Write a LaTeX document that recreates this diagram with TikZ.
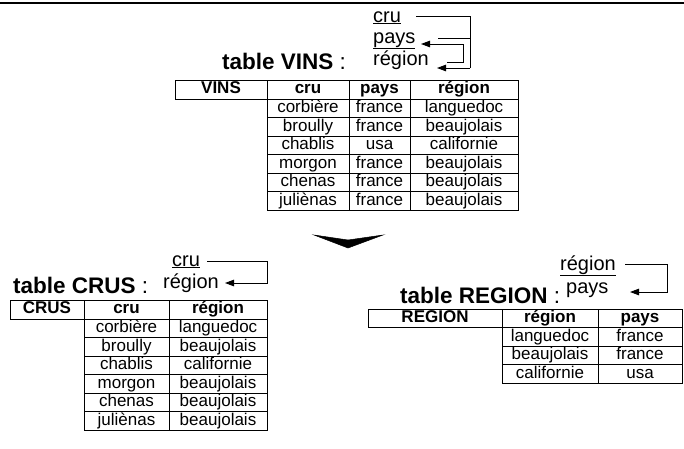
\documentclass[tikz,border=0pt]{standalone}
\usepackage{fontspec}
\setmainfont{Liberation Sans}
\usetikzlibrary{arrows.meta}
\begin{document}
\begin{tikzpicture}[x=1pt,y=-1pt,
  grid/.style={line width=0.9pt},
  cell/.style={font=\fontsize{17}{17}\selectfont, inner sep=0pt, text height=12.2pt, text depth=3.6pt, anchor=center},
  hcell/.style={cell, font=\fontsize{17}{17}\selectfont\bfseries},
  ttl/.style={font=\fontsize{22.5}{22.5}\selectfont, inner sep=0pt, anchor=base west},
  leg/.style={font=\fontsize{20}{20}\selectfont, inner sep=0pt, anchor=base west},
  link/.style={line width=0.9pt},
  arr/.style={link, -{Triangle[length=9pt,width=6.5pt]}},
  bigarrow/.style={fill=black, draw=black, line width=0.5pt}
]
\useasboundingbox (0,0) rectangle (684,448);
\draw[line width=1.5pt] (0,3) -- (684,3);

% ---------------- VINS ----------------
\node[leg] (vlcru) at (373,22) {\underline{cru}};
\node[leg] (vlpays) at (373,43) {\underline{pays}};
\node[leg] (vlreg) at (373,65) {région};
\coordinate (va1) at (416,16);
\coordinate (va2) at (470,16);
\coordinate (va3) at (470,68);
\coordinate (va4) at (437,68);
\coordinate (vb1) at (438,38);
\coordinate (vb2) at (470,38);
\coordinate (vc1) at (447,62);
\coordinate (vc2) at (463,62);
\coordinate (vc3) at (463,44);
\coordinate (vc4) at (421,44);
\draw[link] (va1) -- (va2) -- (va3);
\draw[arr] (va3) -- (va4);
\draw[link] (vb1) -- (vb2);
\draw[arr] (vc1) -- (vc2) -- (vc3) -- (vc4);

\node[ttl] (vtitle) at (222,69) {\textbf{table VINS} :};

\draw[grid] (175,80) rectangle (518,99);
\foreach \x in {267,349,410} \draw[grid] (\x,80) -- (\x,99);
\draw[grid] (267,99) rectangle (518,210);
\foreach \x in {349,410} \draw[grid] (\x,99) -- (\x,210);
\foreach \k in {1,...,5} \draw[grid] (267,99+18.5*\k) -- (518,99+18.5*\k);
\node[hcell] (vh0) at (221,89.5) {VINS};
\node[hcell] (vh1) at (308,89.5) {cru};
\node[hcell] (vh2) at (379.5,89.5) {pays};
\node[hcell] (vh3) at (464,89.5) {région};
\foreach \c/\p/\r [count=\i] in {corbière/france/languedoc, broully/france/beaujolais, chablis/usa/californie, morgon/france/beaujolais, chenas/france/beaujolais, juliènas/france/beaujolais}{
  \node[cell] (v\i a) at (308,99+18.5*\i-9.25) {\c};
  \node[cell] (v\i b) at (379.5,99+18.5*\i-9.25) {\p};
  \node[cell] (v\i c) at (464,99+18.5*\i-9.25) {\r};
}

% big down arrow
\filldraw[bigarrow] (314,235) -- (348,240) -- (383,235) -- (348,248) -- cycle;

% ---------------- CRUS ----------------
\node[leg] (clcru) at (172,266) {\underline{cru}};
\node[leg] (clreg) at (163,288) {région};
\coordinate (ca1) at (207,261);
\coordinate (ca2) at (267,261);
\coordinate (ca3) at (267,283);
\coordinate (ca4) at (225,283);
\draw[arr] (ca1) -- (ca2) -- (ca3) -- (ca4);
\node[ttl] (ctitle) at (13,293) {\textbf{table CRUS} :};

\draw[grid] (10,300) rectangle (267,319);
\foreach \x in {84,169} \draw[grid] (\x,300) -- (\x,319);
\draw[grid] (84,319) rectangle (267,430);
\draw[grid] (169,319) -- (169,430);
\foreach \k in {1,...,5} \draw[grid] (84,319+18.5*\k) -- (267,319+18.5*\k);
\node[hcell] (ch0) at (47,309.5) {CRUS};
\node[hcell] (ch1) at (126.5,309.5) {cru};
\node[hcell] (ch2) at (218,309.5) {région};
\foreach \c/\r [count=\i] in {corbière/languedoc, broully/beaujolais, chablis/californie, morgon/beaujolais, chenas/beaujolais, juliènas/beaujolais}{
  \node[cell] (c\i a) at (126.5,319+18.5*\i-9.25) {\c};
  \node[cell] (c\i b) at (218,319+18.5*\i-9.25) {\r};
}

% ---------------- REGION ----------------
\node[leg] (rlreg) at (560,270) {\underline{région}};
\node[leg] (rlpays) at (566,293) {pays};
\coordinate (ra1) at (625,264);
\coordinate (ra2) at (667,264);
\coordinate (ra3) at (667,292);
\coordinate (ra4) at (630,292);
\draw[arr] (ra1) -- (ra2) -- (ra3) -- (ra4);
\node[ttl] (rtitle) at (400,303) {\textbf{table REGION} :};

\draw[grid] (368,309) rectangle (682,327.5);
\foreach \x in {502,598} \draw[grid] (\x,309) -- (\x,327.5);
\draw[grid] (502,327.5) rectangle (682,383);
\draw[grid] (598,327.5) -- (598,383);
\foreach \k in {1,2} \draw[grid] (502,327.5+18.5*\k) -- (682,327.5+18.5*\k);
\node[hcell] (rh0) at (435,318.25) {REGION};
\node[hcell] (rh1) at (550,318.25) {région};
\node[hcell] (rh2) at (640,318.25) {pays};
\foreach \g/\p [count=\i] in {languedoc/france, beaujolais/france, californie/usa}{
  \node[cell] (r\i a) at (550,327.5+18.5*\i-9.25) {\g};
  \node[cell] (r\i b) at (640,327.5+18.5*\i-9.25) {\p};
}
\end{tikzpicture}
\end{document}
